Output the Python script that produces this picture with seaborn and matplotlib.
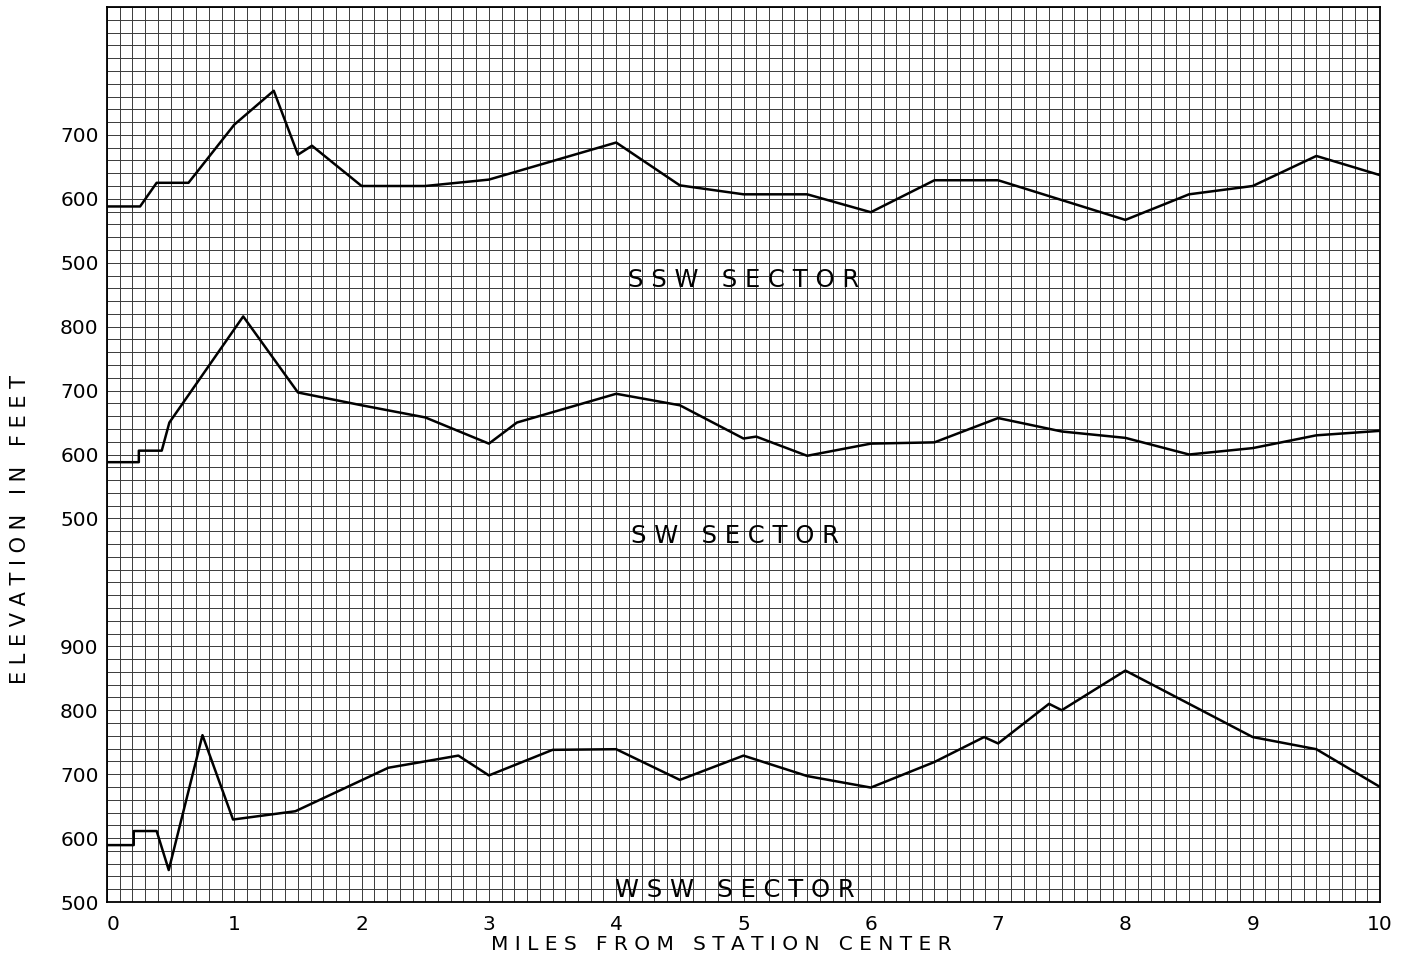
import numpy as np
import pandas as pd
import matplotlib
matplotlib.use("Agg")
import matplotlib.pyplot as plt
from matplotlib.ticker import MultipleLocator, FixedLocator
import seaborn as sns

# ---------------- data ----------------
ssw_miles = [0, 0.26, 0.39, 0.64, 1.0, 1.31, 1.50, 1.61, 2.0, 2.5, 3.0, 4.0, 4.5,
             5.0, 5.5, 6.0, 6.5, 7.0, 8.0, 8.5, 9.0, 9.5, 10.0]
ssw_elev = [588, 588, 625, 625, 716, 769, 669, 683, 620, 620, 630, 688, 621,
            607, 607, 579, 629, 629, 567, 607, 620, 667, 637]

sw_miles = [0, 0.25, 0.25, 0.43, 0.49, 1.07, 1.50, 2.0, 2.5, 3.0, 3.22, 4.0, 4.5,
            5.0, 5.1, 5.5, 6.0, 6.5, 7.0, 7.5, 8.0, 8.5, 9.0, 9.5, 10.0]
sw_elev = [588, 588, 606, 606, 650, 816, 697, 677, 658, 617, 650, 695, 677,
           625, 628, 598, 617, 619, 657, 636, 626, 600, 610, 630, 637]

wsw_miles = [0, 0.21, 0.21, 0.39, 0.485, 0.75, 0.99, 1.48, 2.21, 2.76, 3.0, 3.5,
             4.0, 4.5, 5.0, 5.5, 6.0, 6.5, 6.89, 7.0, 7.40, 7.50, 8.0, 9.0, 9.5, 10.0]
wsw_elev = [589, 589, 611, 611, 550, 761, 629, 642, 710, 729, 698, 738,
            739, 691, 729, 697, 679, 719, 758, 748, 810, 800, 862, 758, 739, 680]

sectors = ["SSW", "SW", "WSW"]
sector_labels = ["S S W   S E C T O R", "S W   S E C T O R", "W S W   S E C T O R"]
# vertical stacking of the three profiles on one sheet (feet added)
sector_offsets = {"SSW": 1000, "SW": 600, "WSW": 0}
sector_ticks = {"SSW": [500, 600, 700], "SW": [500, 600, 700, 800],
                "WSW": [500, 600, 700, 800, 900]}
x_ticks = [0, 1, 2, 3, 4, 5, 6, 7, 8, 9, 10]

frames = []
for name, m, e in [("SSW", ssw_miles, ssw_elev), ("SW", sw_miles, sw_elev),
                   ("WSW", wsw_miles, wsw_elev)]:
    d = pd.DataFrame({"miles": m, "elev": e})
    d["sector"] = name
    d["plot_y"] = d["elev"] + sector_offsets[name]
    frames.append(d)
df = pd.concat(frames, ignore_index=True)

# ---------------- figure ----------------
sns.set_theme(style="white")
plt.rcParams["font.family"] = ["DejaVu Sans"]

W, H = 1409, 959
fig = plt.figure(figsize=(W / 100, H / 100), dpi=100)
fig.patch.set_facecolor("white")
ax = fig.add_axes([107 / W, 1 - 902 / H, 1273 / W, 895 / H])
ax.set_facecolor("white")

sns.lineplot(data=df, x="miles", y="plot_y", hue="sector",
             palette={s: "black" for s in sectors}, estimator=None,
             sort=False, legend=False, linewidth=1.8, ax=ax, zorder=3)

ax.set_xlim(0, 10)
ax.set_ylim(500, 1900)

# graph-paper grid: 0.1 mile x 20 ft
ax.xaxis.set_major_locator(FixedLocator(x_ticks))
ax.xaxis.set_minor_locator(MultipleLocator(0.1))
yt, yl = [], []
for s in sectors:
    for v in sector_ticks[s]:
        yt.append(v + sector_offsets[s])
        yl.append(str(v))
ax.yaxis.set_major_locator(FixedLocator(yt))
ax.yaxis.set_minor_locator(MultipleLocator(20))
ax.set_xticklabels([str(v) for v in x_ticks])
ax.set_yticklabels(yl)
ax.grid(which="both", color="#3a3a3a", linewidth=0.7)
ax.set_axisbelow(True)
ax.tick_params(which="both", length=0)
ax.tick_params(axis="x", pad=9, labelsize=14.5, colors="black")
ax.tick_params(axis="y", pad=6, labelsize=14.5, colors="black")
ax.get_xticklabels()[0].set_ha("left")
for sp in ax.spines.values():
    sp.set_color("black")
    sp.set_linewidth(1.3)

# sector captions
cap_pos = {"SSW": (5.0, 1473), "SW": (4.93, 1072), "WSW": (4.93, 519)}
for s, lab in zip(sectors, sector_labels):
    x, y = cap_pos[s]
    ax.text(x, y, lab, ha="center", va="center", fontsize=17.5,
            color="black", zorder=4)

ax.set_xlabel("M I L E S   F R O M   S T A T I O N   C E N T E R",
              fontsize=14.5, color="black")
ax.set_ylabel("E L E V A T I O N   I N   F E E T", fontsize=15, color="black")
ax.xaxis.label.set_va("center")
ax.yaxis.label.set_va("center")
ax.xaxis.set_label_coords((721 - 107) / 1273, (902 - 944) / 895)
ax.yaxis.set_label_coords((20 - 107) / 1273, (902 - 530) / 895)

fig.savefig("out.png", dpi=100, facecolor="white")
